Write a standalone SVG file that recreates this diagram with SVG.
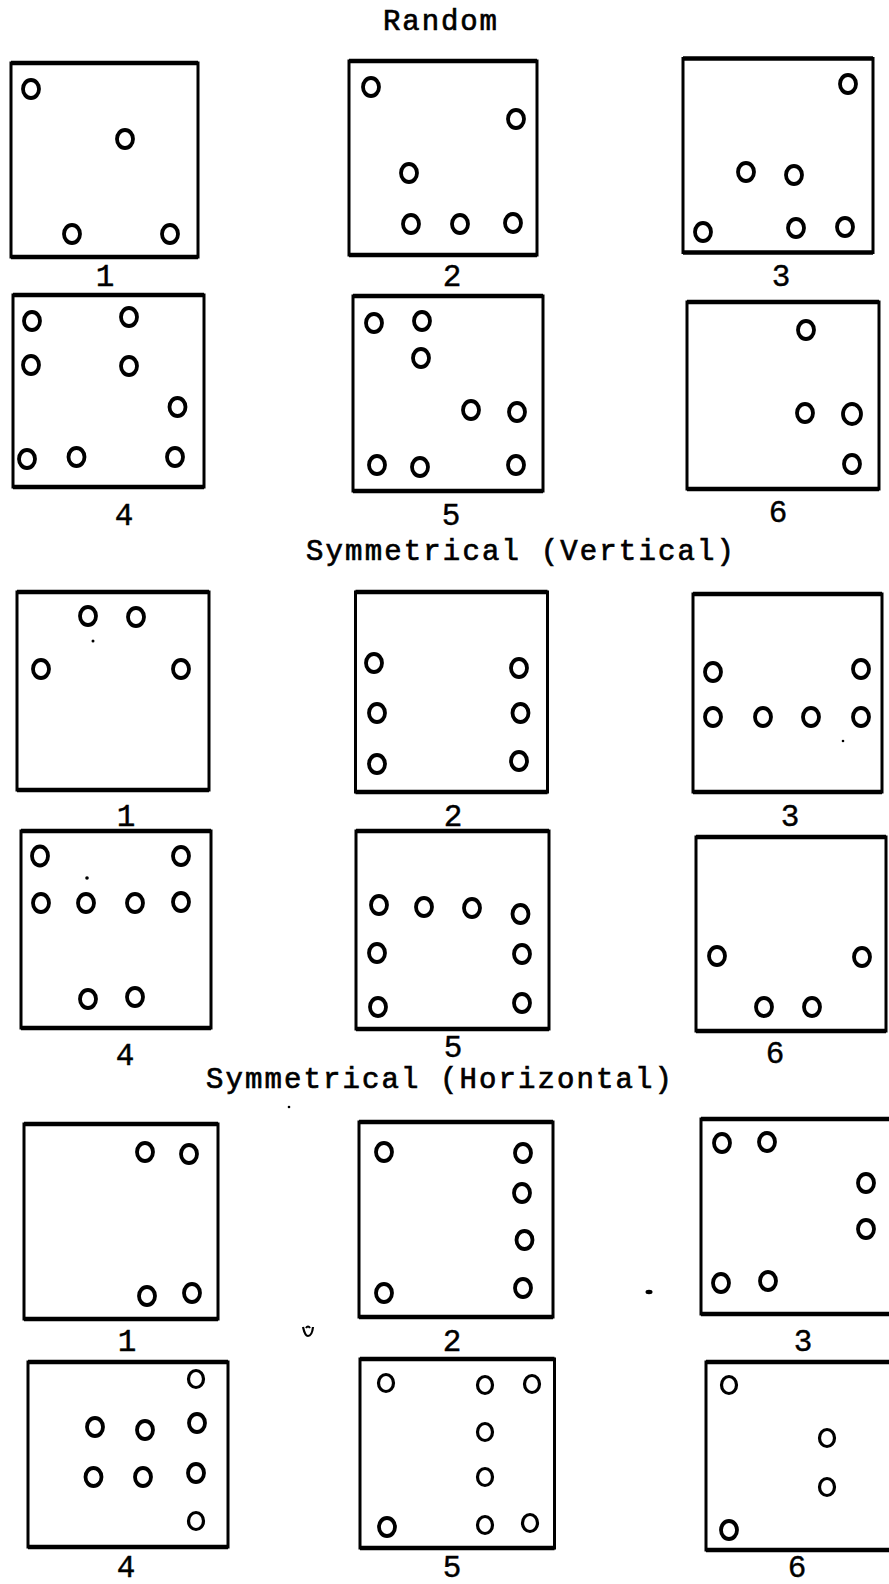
<svg xmlns="http://www.w3.org/2000/svg" width="889" height="1584" viewBox="0 0 889 1584">
  <style>
    .bg { fill: #ffffff; }
    .box { fill: none; stroke: #000; stroke-width: 3; }
    .edge { stroke: #000; stroke-width: 4.5; stroke-linecap: butt; }
    .dot { fill: none; stroke: #000; stroke-width: 3.8; }
    .thin { stroke-width: 3.2; }
    .title { font-family: "Liberation Mono", "DejaVu Sans Mono", monospace; font-size: 29px; fill: #000; stroke: #000; stroke-width: 0.7; }
    .num { font-family: "Liberation Mono", "DejaVu Sans Mono", monospace; font-size: 31px; fill: #000; stroke: #000; stroke-width: 0.4; text-anchor: middle; }
    .speck { fill: #000; }
    .squiggle { fill: none; stroke: #000; stroke-width: 2.2; }
  </style>
  <rect class="bg" x="0" y="0" width="889" height="1584"/>

  <!-- section headings -->
  <g id="headings">
    <text class="title" x="383" y="29.5" textLength="114" lengthAdjust="spacing">Random</text>
    <text class="title" x="306" y="560" textLength="428" lengthAdjust="spacing">Symmetrical (Vertical)</text>
    <text class="title" x="206" y="1088" textLength="466" lengthAdjust="spacing">Symmetrical (Horizontal)</text>
  </g>

  <!-- Random patterns -->
  <g id="random-1">
    <rect class="box" x="11" y="63" width="187" height="194"/>
    <line class="edge" x1="11" y1="63" x2="198" y2="63"/>
    <line class="edge" x1="11" y1="257" x2="198" y2="257"/>
    <ellipse class="dot" cx="31" cy="89" rx="8" ry="9"/>
    <ellipse class="dot" cx="125" cy="139" rx="8" ry="9"/>
    <ellipse class="dot" cx="72" cy="234" rx="8" ry="9"/>
    <ellipse class="dot" cx="170" cy="234" rx="8" ry="9"/>
    <text class="num" x="105" y="286">1</text>
  </g>
  <g id="random-2">
    <rect class="box" x="349" y="61" width="188" height="194"/>
    <line class="edge" x1="349" y1="61" x2="537" y2="61"/>
    <line class="edge" x1="349" y1="255" x2="537" y2="255"/>
    <ellipse class="dot" cx="371" cy="87" rx="8" ry="9"/>
    <ellipse class="dot" cx="516" cy="119" rx="8" ry="9"/>
    <ellipse class="dot" cx="409" cy="173" rx="8" ry="9"/>
    <ellipse class="dot" cx="411" cy="224" rx="8" ry="9"/>
    <ellipse class="dot" cx="460" cy="224" rx="8" ry="9"/>
    <ellipse class="dot" cx="513" cy="223" rx="8" ry="9"/>
    <text class="num" x="452" y="286">2</text>
  </g>
  <g id="random-3">
    <rect class="box" x="683" y="58.5" width="190" height="194"/>
    <line class="edge" x1="683" y1="58.5" x2="873" y2="58.5"/>
    <line class="edge" x1="683" y1="252.5" x2="873" y2="252.5"/>
    <ellipse class="dot" cx="848" cy="84" rx="8" ry="9"/>
    <ellipse class="dot" cx="746" cy="172" rx="8" ry="9"/>
    <ellipse class="dot" cx="794" cy="175" rx="8" ry="9"/>
    <ellipse class="dot" cx="703" cy="232" rx="8" ry="9"/>
    <ellipse class="dot" cx="796" cy="228" rx="8" ry="9"/>
    <ellipse class="dot" cx="845" cy="227" rx="8" ry="9"/>
    <text class="num" x="781" y="286">3</text>
  </g>
  <g id="random-4">
    <rect class="box" x="13" y="295" width="191" height="192"/>
    <line class="edge" x1="13" y1="295" x2="204" y2="295"/>
    <line class="edge" x1="13" y1="487" x2="204" y2="487"/>
    <ellipse class="dot" cx="32" cy="321" rx="8" ry="9"/>
    <ellipse class="dot" cx="129" cy="317" rx="8" ry="9"/>
    <ellipse class="dot" cx="31" cy="365" rx="8" ry="9"/>
    <ellipse class="dot" cx="129" cy="366" rx="8" ry="9"/>
    <ellipse class="dot" cx="177.5" cy="407" rx="8" ry="9"/>
    <ellipse class="dot" cx="27" cy="459" rx="8" ry="9"/>
    <ellipse class="dot" cx="76.5" cy="457" rx="8" ry="9"/>
    <ellipse class="dot" cx="175" cy="457" rx="8" ry="9"/>
    <text class="num" x="124" y="525">4</text>
  </g>
  <g id="random-5">
    <rect class="box" x="353" y="296" width="190" height="195"/>
    <line class="edge" x1="353" y1="296" x2="543" y2="296"/>
    <line class="edge" x1="353" y1="491" x2="543" y2="491"/>
    <ellipse class="dot" cx="374" cy="323" rx="8" ry="9"/>
    <ellipse class="dot" cx="422" cy="321" rx="8" ry="9"/>
    <ellipse class="dot" cx="421" cy="358" rx="8" ry="9"/>
    <ellipse class="dot" cx="471" cy="410" rx="8" ry="9"/>
    <ellipse class="dot" cx="517" cy="412" rx="8" ry="9"/>
    <ellipse class="dot" cx="377" cy="465" rx="8" ry="9"/>
    <ellipse class="dot" cx="420" cy="467" rx="8" ry="9"/>
    <ellipse class="dot" cx="516" cy="465" rx="8" ry="9"/>
    <text class="num" x="451" y="525">5</text>
  </g>
  <g id="random-6">
    <rect class="box" x="687" y="302" width="192" height="187"/>
    <line class="edge" x1="687" y1="302" x2="879" y2="302"/>
    <line class="edge" x1="687" y1="489" x2="879" y2="489"/>
    <ellipse class="dot" cx="806" cy="330" rx="8" ry="9"/>
    <ellipse class="dot" cx="805" cy="413" rx="8" ry="9"/>
    <ellipse class="dot" cx="852" cy="414" rx="9" ry="10"/>
    <ellipse class="dot" cx="852" cy="464" rx="8" ry="9"/>
    <text class="num" x="778" y="522">6</text>
  </g>

  <!-- Symmetrical (vertical axis) patterns -->
  <g id="vertical-1">
    <rect class="box" x="17" y="592" width="192" height="198"/>
    <line class="edge" x1="17" y1="592" x2="209" y2="592"/>
    <line class="edge" x1="17" y1="790" x2="209" y2="790"/>
    <ellipse class="dot" cx="88" cy="616" rx="8" ry="9"/>
    <ellipse class="dot" cx="136" cy="617" rx="8" ry="9"/>
    <ellipse class="dot" cx="41" cy="669" rx="8" ry="9"/>
    <ellipse class="dot" cx="181" cy="669" rx="8" ry="9"/>
    <text class="num" x="126" y="826">1</text>
  </g>
  <g id="vertical-2">
    <rect class="box" x="355.5" y="592" width="192" height="200"/>
    <line class="edge" x1="355.5" y1="592" x2="547.5" y2="592"/>
    <line class="edge" x1="355.5" y1="792" x2="547.5" y2="792"/>
    <ellipse class="dot" cx="374" cy="663" rx="8" ry="9"/>
    <ellipse class="dot" cx="519" cy="668" rx="8" ry="9"/>
    <ellipse class="dot" cx="377" cy="713" rx="8" ry="9"/>
    <ellipse class="dot" cx="520.5" cy="713" rx="8" ry="9"/>
    <ellipse class="dot" cx="377" cy="764" rx="8" ry="9"/>
    <ellipse class="dot" cx="519" cy="761" rx="8" ry="9"/>
    <text class="num" x="453" y="826">2</text>
  </g>
  <g id="vertical-3">
    <rect class="box" x="693" y="594" width="189" height="198"/>
    <line class="edge" x1="693" y1="594" x2="882" y2="594"/>
    <line class="edge" x1="693" y1="792" x2="882" y2="792"/>
    <ellipse class="dot" cx="713" cy="672" rx="8" ry="9"/>
    <ellipse class="dot" cx="861" cy="669" rx="8" ry="9"/>
    <ellipse class="dot" cx="713" cy="717" rx="8" ry="9"/>
    <ellipse class="dot" cx="763" cy="717" rx="8" ry="9"/>
    <ellipse class="dot" cx="811" cy="717" rx="8" ry="9"/>
    <ellipse class="dot" cx="861" cy="717" rx="8" ry="9"/>
    <text class="num" x="790" y="826">3</text>
  </g>
  <g id="vertical-4">
    <rect class="box" x="21" y="831" width="190" height="197"/>
    <line class="edge" x1="21" y1="831" x2="211" y2="831"/>
    <line class="edge" x1="21" y1="1028" x2="211" y2="1028"/>
    <ellipse class="dot" cx="40" cy="856" rx="8" ry="9.5"/>
    <ellipse class="dot" cx="181" cy="856" rx="8" ry="9"/>
    <ellipse class="dot" cx="41" cy="903" rx="8" ry="9"/>
    <ellipse class="dot" cx="86" cy="903" rx="8" ry="9"/>
    <ellipse class="dot" cx="135" cy="903" rx="8" ry="9"/>
    <ellipse class="dot" cx="181" cy="902" rx="8" ry="9"/>
    <ellipse class="dot" cx="88" cy="999" rx="8" ry="9"/>
    <ellipse class="dot" cx="135" cy="997" rx="8" ry="9"/>
    <text class="num" x="125" y="1065">4</text>
  </g>
  <g id="vertical-5">
    <rect class="box" x="356" y="831" width="193" height="198"/>
    <line class="edge" x1="356" y1="831" x2="549" y2="831"/>
    <line class="edge" x1="356" y1="1029" x2="549" y2="1029"/>
    <ellipse class="dot" cx="379" cy="905" rx="8" ry="9"/>
    <ellipse class="dot" cx="424" cy="907" rx="8" ry="9"/>
    <ellipse class="dot" cx="472" cy="908" rx="8" ry="9"/>
    <ellipse class="dot" cx="520.5" cy="914" rx="8" ry="9"/>
    <ellipse class="dot" cx="377" cy="953" rx="8" ry="9"/>
    <ellipse class="dot" cx="522" cy="954" rx="8" ry="9"/>
    <ellipse class="dot" cx="378" cy="1007" rx="8" ry="9"/>
    <ellipse class="dot" cx="522" cy="1003" rx="8" ry="9"/>
    <text class="num" x="453" y="1057">5</text>
  </g>
  <g id="vertical-6">
    <rect class="box" x="696" y="837" width="190" height="194"/>
    <line class="edge" x1="696" y1="837" x2="886" y2="837"/>
    <line class="edge" x1="696" y1="1031" x2="886" y2="1031"/>
    <ellipse class="dot" cx="717" cy="956" rx="8" ry="9"/>
    <ellipse class="dot" cx="862" cy="957" rx="8" ry="9"/>
    <ellipse class="dot" cx="764" cy="1007" rx="8" ry="9"/>
    <ellipse class="dot" cx="812" cy="1007" rx="8" ry="9"/>
    <text class="num" x="775" y="1063">6</text>
  </g>

  <!-- Symmetrical (horizontal axis) patterns -->
  <g id="horizontal-1">
    <rect class="box" x="24" y="1124" width="194" height="195"/>
    <line class="edge" x1="24" y1="1124" x2="218" y2="1124"/>
    <line class="edge" x1="24" y1="1319" x2="218" y2="1319"/>
    <ellipse class="dot" cx="145" cy="1152" rx="8" ry="9"/>
    <ellipse class="dot" cx="189" cy="1154" rx="8" ry="9"/>
    <ellipse class="dot" cx="147" cy="1296" rx="8" ry="9"/>
    <ellipse class="dot" cx="192" cy="1293" rx="8" ry="9"/>
    <text class="num" x="127" y="1351">1</text>
  </g>
  <g id="horizontal-2">
    <rect class="box" x="359" y="1122" width="194" height="195"/>
    <line class="edge" x1="359" y1="1122" x2="553" y2="1122"/>
    <line class="edge" x1="359" y1="1317" x2="553" y2="1317"/>
    <ellipse class="dot" cx="384" cy="1152" rx="8" ry="9"/>
    <ellipse class="dot" cx="523" cy="1153" rx="8" ry="9"/>
    <ellipse class="dot" cx="522" cy="1193" rx="8" ry="9"/>
    <ellipse class="dot" cx="524.5" cy="1240" rx="8" ry="9"/>
    <ellipse class="dot" cx="523" cy="1288" rx="8" ry="9"/>
    <ellipse class="dot" cx="384" cy="1293" rx="8" ry="9"/>
    <text class="num" x="452" y="1351">2</text>
  </g>
  <g id="horizontal-3">
    <rect class="box" x="701" y="1119" width="192" height="195"/>
    <line class="edge" x1="701" y1="1119" x2="893" y2="1119"/>
    <line class="edge" x1="701" y1="1314" x2="893" y2="1314"/>
    <ellipse class="dot" cx="722" cy="1143" rx="8" ry="9"/>
    <ellipse class="dot" cx="767" cy="1142" rx="8" ry="9"/>
    <ellipse class="dot" cx="866" cy="1183" rx="8" ry="9"/>
    <ellipse class="dot" cx="866" cy="1229" rx="8" ry="9"/>
    <ellipse class="dot" cx="721" cy="1283" rx="8" ry="9"/>
    <ellipse class="dot" cx="768" cy="1281" rx="8" ry="9"/>
    <text class="num" x="803" y="1351">3</text>
  </g>
  <g id="horizontal-4">
    <rect class="box" x="28" y="1362" width="200" height="185"/>
    <line class="edge" x1="28" y1="1362" x2="228" y2="1362"/>
    <line class="edge" x1="28" y1="1547" x2="228" y2="1547"/>
    <ellipse class="dot thin" cx="196" cy="1379" rx="7.5" ry="8.5"/>
    <ellipse class="dot" cx="95" cy="1427" rx="8" ry="9"/>
    <ellipse class="dot" cx="145" cy="1430" rx="8" ry="9"/>
    <ellipse class="dot" cx="197" cy="1423" rx="8" ry="9"/>
    <ellipse class="dot" cx="93.5" cy="1477" rx="8" ry="9"/>
    <ellipse class="dot" cx="143" cy="1477" rx="8" ry="9"/>
    <ellipse class="dot" cx="196" cy="1473" rx="8" ry="9"/>
    <ellipse class="dot thin" cx="196" cy="1521" rx="7.5" ry="8.5"/>
    <text class="num" x="126" y="1577">4</text>
  </g>
  <g id="horizontal-5">
    <rect class="box" x="360" y="1359" width="194.5" height="189"/>
    <line class="edge" x1="360" y1="1359" x2="554.5" y2="1359"/>
    <line class="edge" x1="360" y1="1548" x2="554.5" y2="1548"/>
    <ellipse class="dot thin" cx="386" cy="1383" rx="7.5" ry="8.5"/>
    <ellipse class="dot thin" cx="485" cy="1385" rx="7.5" ry="8.5"/>
    <ellipse class="dot thin" cx="532" cy="1384" rx="7.5" ry="8.5"/>
    <ellipse class="dot thin" cx="485" cy="1432" rx="7.5" ry="8.5"/>
    <ellipse class="dot thin" cx="485" cy="1477" rx="7.5" ry="8.5"/>
    <ellipse class="dot" cx="387" cy="1527" rx="8" ry="9"/>
    <ellipse class="dot thin" cx="485" cy="1525" rx="7.5" ry="8.5"/>
    <ellipse class="dot thin" cx="530" cy="1523" rx="7.5" ry="8.5"/>
    <text class="num" x="452" y="1577">5</text>
  </g>
  <g id="horizontal-6">
    <rect class="box" x="706" y="1362" width="187" height="188"/>
    <line class="edge" x1="706" y1="1362" x2="893" y2="1362"/>
    <line class="edge" x1="706" y1="1550" x2="893" y2="1550"/>
    <ellipse class="dot thin" cx="729" cy="1385" rx="7.5" ry="8.5"/>
    <ellipse class="dot thin" cx="827" cy="1438" rx="7.5" ry="8.5"/>
    <ellipse class="dot thin" cx="827" cy="1487" rx="7.5" ry="8.5"/>
    <ellipse class="dot" cx="729" cy="1530" rx="8" ry="9"/>
    <text class="num" x="797" y="1577">6</text>
  </g>

  <!-- no connectors between the panels -->
  <g id="connectors"/>

  <!-- stray ink marks on the sheet -->
  <g id="marks">
    <path class="squiggle" d="M303,1327 q2,9 5,9 q4,0 5,-9 M306,1328 q2,-3 4,0"/>
    <ellipse class="speck" cx="649" cy="1292" rx="3.5" ry="2.2"/>
    <circle class="speck" cx="93" cy="641" r="1.5"/>
    <circle class="speck" cx="87" cy="878" r="1.8"/>
    <circle class="speck" cx="843" cy="741" r="1.3"/>
    <circle class="speck" cx="289" cy="1107" r="1.3"/>
  </g>
</svg>
